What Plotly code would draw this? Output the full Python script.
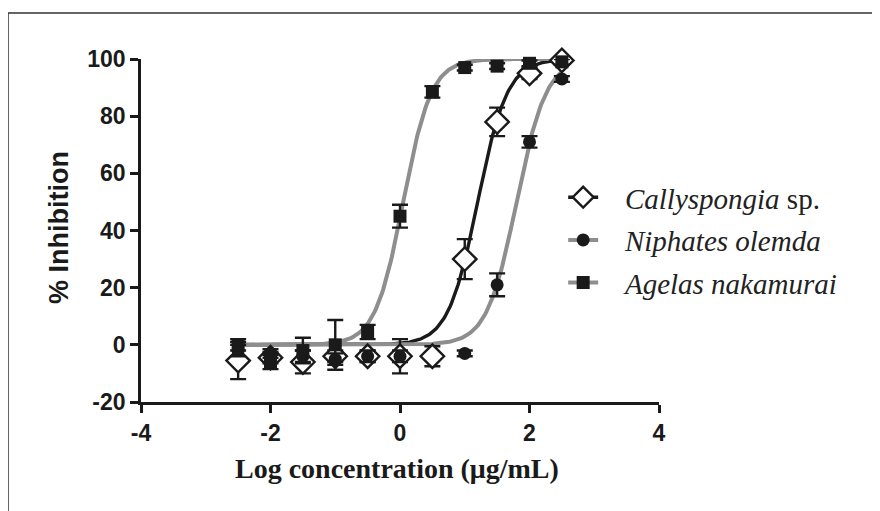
import numpy as np
import plotly.graph_objects as go

# ---- data ----
log_conc = [-2.5, -2, -1.5, -1, -0.5, 0, 0.5, 1, 1.5, 2, 2.5]

callyspongia_mean = [-5.5, -4.5, -6, -4, -4, -4, -4, 30, 78, 95, 99.5]
callyspongia_err = [6.5, 2, 4, 2, 2, 6, 3.5, 7, 5, 2, 1]

niphates_mean = [-2, -3, -4, -5, -4, -4, None, -3, 21, 71, 93]
niphates_err = [2, 1.5, 2, 2, 2, 2, 0, 1, 4, 2, 1]

agelas_mean = [0, -6, -2, 0, 4.5, 45, 88.5, 97, 97.5, 98.5, 99]
agelas_err = [2, 2.5, 4.5, 8.7, 2.5, 4, 2, 1, 1, 1, 1]

# fitted sigmoid parameters (bottom, top, logEC50, hill) estimated from the curves
fit_callyspongia = (0, 100, 1.2, 1.9)
fit_niphates = (0, 100, 1.8, 1.9)
fit_agelas = (0, 100, 0.05, 2.0)

series_names = ["<i>Callyspongia</i> sp.", "<i>Niphates olemda</i>", "<i>Agelas nakamurai</i>"]
x_ticks = [-4, -2, 0, 2, 4]
x_tick_text = ["-4", "-2", "0", "2", "4"]
y_ticks = [-20, 0, 20, 40, 60, 80, 100]
y_tick_text = ["-20", "0", "20", "40", "60", "80", "100"]

BLACK = "#1a1a1a"
GRAY = "#8e8e8e"


def curve(params):
    b, t, ec, h = params
    xs = np.linspace(min(log_conc), max(log_conc), 300)
    ys = b + (t - b) / (1 + 10 ** ((ec - xs) * h))
    return xs, ys


fig = go.Figure()

specs = [
    (callyspongia_mean, callyspongia_err, fit_callyspongia, BLACK, 3.4,
     dict(symbol="diamond", size=18, color="white", line=dict(color=BLACK, width=2.4))),
    (niphates_mean, niphates_err, fit_niphates, GRAY, 4,
     dict(symbol="circle", size=13, color=BLACK, line=dict(color=BLACK, width=0))),
    (agelas_mean, agelas_err, fit_agelas, GRAY, 4,
     dict(symbol="square", size=13, color=BLACK, line=dict(color=BLACK, width=0))),
]

# fitted curves beneath the markers
for m, e, p, col, lw, mk in specs:
    xs, ys = curve(p)
    fig.add_trace(go.Scatter(x=xs, y=ys, mode="lines", line=dict(color=col, width=lw),
                             showlegend=False, hoverinfo="skip", cliponaxis=False))

# markers with error bars
for m, e, p, col, lw, mk in specs:
    fig.add_trace(go.Scatter(x=log_conc, y=m, mode="markers", marker=mk,
                             error_y=dict(type="data", array=e, visible=True, color=BLACK,
                                          thickness=2.4, width=8),
                             showlegend=False, cliponaxis=False))

# legend entries
for i, (m, e, p, col, lw, mk) in enumerate(specs):
    fig.add_trace(go.Scatter(x=[None], y=[None], mode="lines+markers",
                             name="\u00a0\u00a0\u00a0" + series_names[i],
                             line=dict(color=col, width=lw), marker=mk,
                             legendgroup=f"g{i}", showlegend=True))

# page body adds an 8px offset; margins compensate so the plot area lands at 141..659 x 59..402
fig.update_layout(
    width=880, height=511,
    margin=dict(l=133, r=229, t=51, b=117),
    paper_bgcolor="white", plot_bgcolor="white",
    showlegend=True,
    legend=dict(x=0.815, y=0.671, xanchor="left", yanchor="top",
                font=dict(family="Liberation Serif", size=29, color="#222"),
                tracegroupgap=2, itemwidth=30, bgcolor="rgba(0,0,0,0)"),
    xaxis=dict(range=[-4, 4], tickvals=x_ticks, ticktext=x_tick_text, showgrid=False,
               zeroline=False, showline=True, linecolor=BLACK, linewidth=2.8, ticks="outside",
               ticklen=8, tickwidth=2.8, tickcolor=BLACK,
               tickfont=dict(family="Liberation Sans", size=23, color=BLACK, weight="bold")),
    yaxis=dict(range=[-20, 100], tickvals=y_ticks, ticktext=y_tick_text, showgrid=False,
               zeroline=False, showline=True, linecolor=BLACK, linewidth=2.8, ticks="outside",
               ticklen=8, tickwidth=2.8, tickcolor=BLACK,
               tickfont=dict(family="Liberation Sans", size=23, color=BLACK, weight="bold")),
    annotations=[
        dict(text="% Inhibition", xref="paper", yref="paper", x=(59 - 141) / 518,
             y=(402 - 228) / 343, textangle=-90, showarrow=False, xanchor="center",
             yanchor="middle",
             font=dict(family="Liberation Sans", size=27, color=BLACK, weight="bold")),
        dict(text="Log concentration (μg/mL)", xref="paper", yref="paper",
             x=(397 - 141) / 518, y=(402 - 468) / 343, showarrow=False, xanchor="center",
             yanchor="middle",
             font=dict(family="Liberation Serif", size=28, color=BLACK, weight="bold")),
    ],
    shapes=[
        dict(type="rect", xref="paper", yref="paper", x0=(8 - 141) / 518, x1=1.6, y0=-0.6,
             y1=(402 - 13) / 343, line=dict(color="#333", width=1.5),
             fillcolor="rgba(0,0,0,0)", layer="below"),
    ],
)

fig.write_html("out.html")
